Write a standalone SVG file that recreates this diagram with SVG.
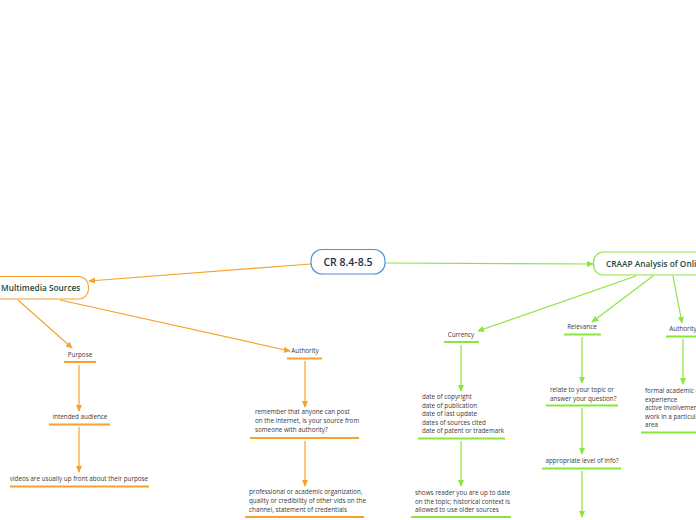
<svg xmlns="http://www.w3.org/2000/svg" width="696" height="520" viewBox="0 0 696 520">
<style>
.t{font-family:"Open Sans","Liberation Sans",sans-serif;font-size:6.3px;fill:#3a3a3a}
.m{text-anchor:middle}
.co{stroke:#f7a22e;stroke-width:1.2;fill:none}
.cg{stroke:#8be53c;stroke-width:1.2;fill:none}
.uo{stroke:#f7a22e;stroke-width:2}
.ug{stroke:#8be53c;stroke-width:2}
.hd{font-family:"Open Sans","Liberation Sans",sans-serif;font-weight:600;fill:#1d4a3c;font-size:8.3px}
</style>
<defs>
<marker id="ao" viewBox="0 0 8 8" refX="7" refY="4" markerWidth="7" markerHeight="7" orient="auto" markerUnits="userSpaceOnUse"><path d="M0,0.5 L8,4 L0,7.5 z" fill="#f7a22e"/></marker>
<marker id="ag" viewBox="0 0 8 8" refX="7" refY="4" markerWidth="7" markerHeight="7" orient="auto" markerUnits="userSpaceOnUse"><path d="M0,0.5 L8,4 L0,7.5 z" fill="#8be53c"/></marker>
</defs>
<rect width="696" height="520" fill="#fff"/>
<g id="connectors">
<path class="co" d="M311,264 L89,281" marker-end="url(#ao)"/>
<path class="cg" d="M386,263 L593,264" marker-end="url(#ag)"/>
<path class="co" d="M18,300 L72,348" marker-end="url(#ao)"/>
<path class="co" d="M60,300 L290,351" marker-end="url(#ao)"/>
<path class="co" d="M79,365 L79,411" marker-end="url(#ao)"/>
<path class="co" d="M79,427 L79,472" marker-end="url(#ao)"/>
<path class="co" d="M305,361 L305,407" marker-end="url(#ao)"/>
<path class="co" d="M305,441 L305,486" marker-end="url(#ao)"/>
<path class="cg" d="M636,276 L478,331" marker-end="url(#ag)"/>
<path class="cg" d="M653,276 L592,322" marker-end="url(#ag)"/>
<path class="cg" d="M673,276 L682,323" marker-end="url(#ag)"/>
<path class="cg" d="M461,345 L461,391" marker-end="url(#ag)"/>
<path class="cg" d="M461,441 L461,486" marker-end="url(#ag)"/>
<path class="cg" d="M582,337 L582,383" marker-end="url(#ag)"/>
<path class="cg" d="M582,408 L582,454" marker-end="url(#ag)"/>
<path class="cg" d="M582,471 L582,517" marker-end="url(#ag)"/>
<path class="cg" d="M683,339 L683,384" marker-end="url(#ag)"/>
</g>
<g id="root">
<rect x="311" y="249.5" width="74" height="24.5" rx="11" fill="#fff" stroke="#4b94d2" stroke-width="1.2"/>
<text x="348" y="265.5" text-anchor="middle" font-family="'Open Sans','Liberation Sans',sans-serif" font-weight="600" font-size="10.5" fill="#1c2e4a">CR 8.4-8.5</text>
</g>
<g id="multimedia">
<rect x="-20" y="276.5" width="108.5" height="22.5" rx="10" fill="#fff" stroke="#f7a22e" stroke-width="1.2"/>
<text x="1" y="291" class="hd">Multimedia Sources</text>
</g>
<g id="craap">
<rect x="593.5" y="252" width="130" height="23" rx="10" fill="#fff" stroke="#8be53c" stroke-width="1.2"/>
<text x="606" y="267" class="hd">CRAAP Analysis of Online Sources</text>
</g>
<g id="purpose">
<text x="80" y="357" class="t m">Purpose</text>
<line class="uo" x1="64" y1="362" x2="96" y2="362"/>
</g>
<g id="intended">
<text x="80" y="419" class="t m">intended audience</text>
<line class="uo" x1="49" y1="424.5" x2="110" y2="424.5"/>
</g>
<g id="videos">
<text x="79" y="481" class="t m">videos are usually up front about their purpose</text>
<line class="uo" x1="10" y1="486.5" x2="149" y2="486.5"/>
</g>
<g id="authority-mm">
<text x="305" y="353" class="t m">Authority</text>
<line class="uo" x1="287" y1="358.5" x2="322" y2="358.5"/>
</g>
<g id="remember">
<text x="255" y="414" class="t">remember that anyone can post</text>
<text x="255" y="423" class="t">on the internet, is your source from</text>
<text x="255" y="432" class="t">someone with authority?</text>
<line class="uo" x1="250" y1="438" x2="359" y2="438"/>
</g>
<g id="professional">
<text x="249" y="494" class="t">professional or academic organization,</text>
<text x="249" y="503" class="t">quality or credibility of other vids on the</text>
<text x="249" y="512" class="t">channel, statement of credentials</text>
<line class="uo" x1="245" y1="517" x2="364" y2="517"/>
</g>
<g id="currency">
<text x="461" y="337" class="t m">Currency</text>
<line class="ug" x1="444" y1="342" x2="479" y2="342"/>
</g>
<g id="dates">
<text x="422" y="399" class="t">date of copyright</text>
<text x="422" y="407.5" class="t">date of publication</text>
<text x="422" y="416" class="t">date of last update</text>
<text x="422" y="424.5" class="t">dates of sources cited</text>
<text x="422" y="433" class="t">date of patent or trademark</text>
<line class="ug" x1="418" y1="438.5" x2="505" y2="438.5"/>
</g>
<g id="shows">
<text x="415" y="495" class="t">shows reader you are up to date</text>
<text x="415" y="503.5" class="t">on the topic; historical context is</text>
<text x="415" y="512" class="t">allowed to use older sources</text>
<line class="ug" x1="411" y1="517" x2="511" y2="517"/>
</g>
<g id="relevance">
<text x="582" y="329" class="t m">Relevance</text>
<line class="ug" x1="564" y1="334.5" x2="601" y2="334.5"/>
</g>
<g id="relate">
<text x="550" y="392" class="t">relate to your topic or</text>
<text x="550" y="400.5" class="t">answer your question?</text>
<line class="ug" x1="546" y1="405.5" x2="618" y2="405.5"/>
</g>
<g id="appropriate">
<text x="582" y="463" class="t m">appropriate level of info?</text>
<line class="ug" x1="542" y1="468.5" x2="621" y2="468.5"/>
</g>
<g id="authority-craap">
<text x="683" y="331" class="t m">Authority</text>
<line class="ug" x1="666" y1="336.5" x2="700" y2="336.5"/>
</g>
<g id="formal">
<text x="645" y="393" class="t">formal academic degree</text>
<text x="645" y="401.5" class="t">experience</text>
<text x="645" y="410" class="t">active involvement</text>
<text x="645" y="418.5" class="t">work in a particular</text>
<text x="645" y="427" class="t">area</text>
<line class="ug" x1="641" y1="432.5" x2="700" y2="432.5"/>
</g>
</svg>
